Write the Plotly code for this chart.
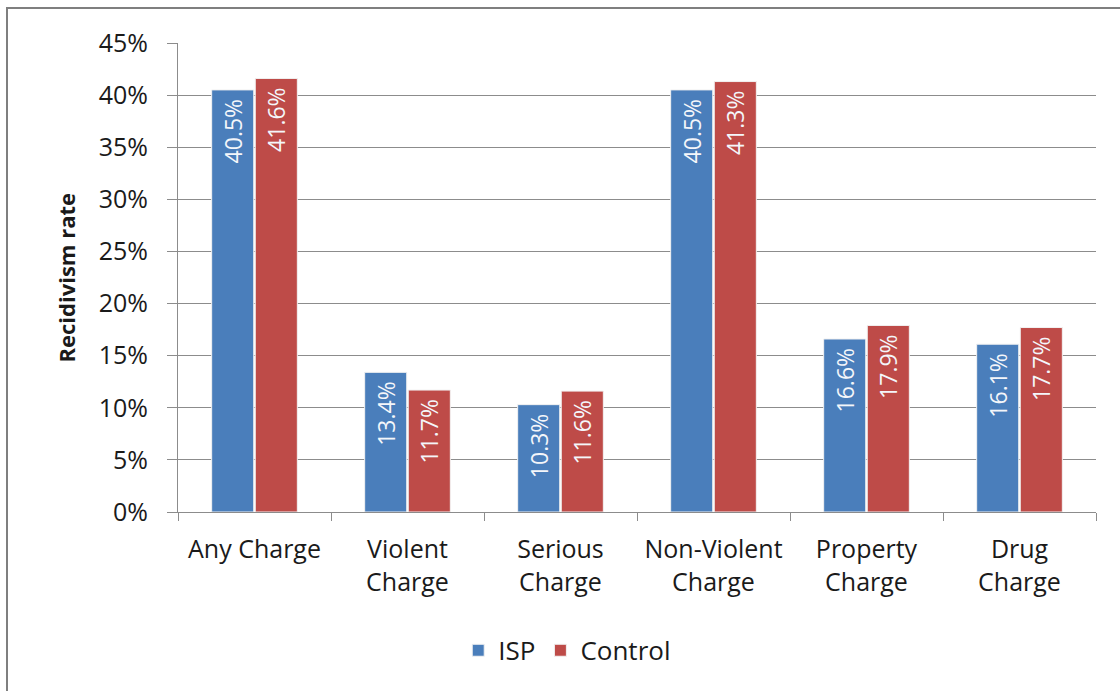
import plotly.graph_objects as go

# Recidivism rates by charge type, ISP vs. control group (percent)
categories = ["Any Charge", "Violent<br>Charge", "Serious<br>Charge",
              "Non-Violent<br>Charge", "Property<br>Charge", "Drug<br>Charge"]
isp_values = [40.5, 13.4, 10.3, 40.5, 16.6, 16.1]
control_values = [41.6, 11.7, 11.6, 41.3, 17.9, 17.7]
y_ticks = [0, 5, 10, 15, 20, 25, 30, 35, 40, 45]
y_tick_labels = [f"{v}%" for v in y_ticks]

FONT = "Open Sans"
BLUE = "#4a7ebb"
RED = "#be4b48"
TEXT = "#1a1a1a"

fig = go.Figure()
for name, vals, color in [("ISP", isp_values, BLUE), ("Control", control_values, RED)]:
    fig.add_trace(go.Bar(
        name=name, x=categories, y=vals,
        marker=dict(color=color, line=dict(color="#f2f2f2", width=1)),
        text=[f"{v:.1f}%\u00a0" for v in vals],
        textposition="inside", insidetextanchor="end", textangle=-90,
        textfont=dict(family=FONT, size=23, color="#f4f6fa"),
        cliponaxis=False,
    ))

fig.update_layout(
    width=1120, height=691,
    margin=dict(l=178, r=24, t=43, b=179),
    paper_bgcolor="white", plot_bgcolor="white",
    barmode="group", bargap=0.43, bargroupgap=0.035,
    font=dict(family=FONT, color=TEXT),
    showlegend=True,
    legend=dict(orientation="h", x=0.424, xanchor="center", y=-0.295, yanchor="middle",
                font=dict(family=FONT, size=26, color=TEXT),
                itemwidth=30, traceorder="normal"),
)
fig.update_xaxes(
    showline=True, linecolor="#8c8c8c", linewidth=1,
    ticks="outside", tickson="boundaries", ticklen=8, tickcolor="#8c8c8c",
    tickfont=dict(family=FONT, size=25, color=TEXT),
    ticklabelstandoff=15,
    showgrid=False,
)
fig.update_yaxes(
    range=[0, 45], tickvals=y_ticks, ticktext=y_tick_labels,
    showline=True, linecolor="#8c8c8c", linewidth=1,
    ticks="outside", ticklen=10, tickcolor="#8c8c8c",
    showgrid=True, gridcolor="#8c8c8c", gridwidth=1,
    tickfont=dict(family=FONT, size=25, color=TEXT),
    ticklabelstandoff=14, zeroline=False,
)
fig.add_annotation(
    text="<b>Recidivism rate</b>", xref="paper", yref="paper",
    x=(65 - 178) / 918, y=0.5, xanchor="center", textangle=-90, showarrow=False,
    font=dict(family=FONT, size=22, color=TEXT),
)
# Outer chart frame (top and left edges)
fig.add_shape(type="rect", xref="paper", yref="paper",
              x0=(7 - 178) / 918, x1=(1130 - 178) / 918,
              y0=(512 - 720) / 469, y1=(512 - 8) / 469,
              line=dict(color="#7f7f7f", width=2), layer="below")

fig.write_html("out.html")
